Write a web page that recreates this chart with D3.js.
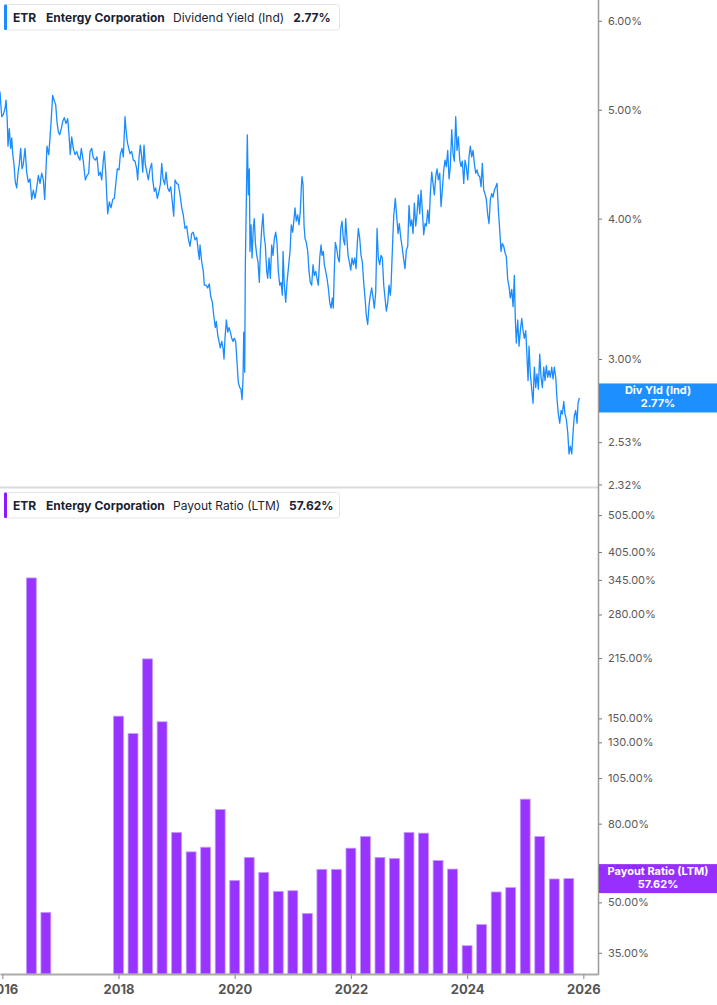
<!DOCTYPE html>
<html>
<head>
<meta charset="utf-8">
<script src="https://cdn.jsdelivr.net/npm/d3@7"></script>
<style>
  html, body { margin: 0; padding: 0; background: #fff; }
  svg { display: block; font-family: Inter, "Noto Sans", Roboto, sans-serif; }
</style>
</head>
<body>
<svg id="chart" width="717" height="1005"></svg>
<script>
// ---------------- DATA ----------------
const ticker = "ETR";
const company = "Entergy Corporation";
const topSeriesName = "Dividend Yield (Ind)";
const topShortName = "Div Yld (Ind)";
const bottomSeriesName = "Payout Ratio (LTM)";

// Dividend yield (%), time as decimal year
const yieldTimes = [
2015.960,2015.972,2015.990,2016.017,2016.046,2016.064,2016.086,2016.098,2016.120,2016.144,2016.162,2016.179,2016.201,2016.224,2016.248,2016.270,2016.292,2016.316,2016.339,2016.361,2016.391,2016.420,2016.447,2016.477,2016.506,2016.534,2016.563,2016.592,2016.620,2016.649,2016.678,2016.706,2016.730,2016.752,2016.769,2016.799,2016.821,2016.843,2016.867,2016.890,2016.919,2016.941,2016.964,2016.988,
2017.015,2017.040,2017.067,2017.096,2017.126,2017.148,2017.170,2017.194,2017.222,2017.251,2017.281,2017.308,2017.337,2017.360,2017.394,2017.429,2017.458,2017.487,2017.510,2017.539,2017.566,2017.601,2017.630,2017.659,2017.687,2017.711,2017.739,2017.756,2017.780,2017.797,2017.814,2017.842,2017.871,2017.900,2017.928,2017.952,2017.979,
2018.009,2018.031,2018.060,2018.083,2018.112,2018.129,2018.152,2018.176,2018.198,2018.227,2018.255,2018.284,2018.313,2018.330,2018.353,2018.375,2018.399,2018.417,2018.439,2018.461,2018.491,2018.513,2018.542,2018.571,2018.589,2018.616,2018.640,2018.668,2018.697,2018.720,2018.744,2018.766,2018.795,2018.818,2018.847,2018.875,2018.899,2018.926,2018.950,2018.973,
2019.002,2019.029,2019.059,2019.088,2019.115,2019.145,2019.174,2019.201,2019.231,2019.260,2019.287,2019.317,2019.346,2019.373,2019.391,2019.403,2019.432,2019.460,2019.477,2019.506,2019.535,2019.563,2019.587,2019.615,2019.639,2019.666,2019.684,2019.708,2019.730,2019.752,2019.776,2019.799,2019.816,2019.833,2019.856,2019.880,2019.902,2019.925,2019.949,2019.971,2019.993,
2020.017,2020.040,2020.062,2020.086,2020.108,2020.126,2020.143,2020.155,2020.172,2020.183,2020.200,2020.217,2020.234,2020.252,2020.263,2020.281,2020.298,2020.320,2020.337,2020.355,2020.379,2020.401,2020.424,2020.441,2020.465,2020.487,2020.504,2020.527,2020.551,2020.568,2020.591,2020.613,2020.637,2020.659,2020.682,2020.706,2020.728,2020.751,2020.775,2020.797,2020.820,2020.832,2020.854,2020.878,2020.900,2020.923,2020.952,2020.974,2020.998,
2021.021,2021.038,2021.060,2021.084,2021.107,2021.129,2021.146,2021.158,2021.176,2021.193,2021.210,2021.232,2021.257,2021.279,2021.301,2021.325,2021.348,2021.370,2021.394,2021.417,2021.439,2021.463,2021.486,2021.503,2021.525,2021.542,2021.566,2021.589,2021.611,2021.635,2021.658,2021.680,2021.697,2021.714,2021.732,2021.756,2021.778,2021.801,2021.825,2021.847,2021.869,2021.893,2021.910,2021.928,2021.950,2021.973,2021.997,
2022.019,2022.042,2022.066,2022.088,2022.111,2022.128,2022.152,2022.174,2022.196,2022.220,2022.243,2022.265,2022.289,2022.312,2022.334,2022.358,2022.381,2022.403,2022.427,2022.450,2022.472,2022.496,2022.518,2022.541,2022.565,2022.587,2022.610,2022.634,2022.656,2022.678,2022.690,2022.720,2022.737,2022.764,2022.788,2022.811,2022.833,2022.857,2022.880,2022.902,2022.931,2022.954,2022.978,
2023.000,2023.023,2023.047,2023.069,2023.092,2023.116,2023.138,2023.160,2023.185,2023.207,2023.229,2023.253,2023.276,2023.298,2023.322,2023.345,2023.367,2023.391,2023.413,2023.436,2023.460,2023.482,2023.505,2023.529,2023.551,2023.573,2023.598,2023.620,2023.642,2023.666,2023.689,2023.711,2023.735,2023.758,2023.780,2023.804,2023.826,2023.849,2023.873,2023.895,2023.918,2023.942,2023.964,2023.986,
2024.011,2024.033,2024.055,2024.079,2024.102,2024.124,2024.148,2024.171,2024.193,2024.217,2024.240,2024.262,2024.286,2024.308,2024.331,2024.355,2024.377,2024.400,2024.424,2024.446,2024.469,2024.493,2024.515,2024.538,2024.561,2024.584,2024.606,2024.630,2024.653,2024.675,2024.699,2024.722,2024.744,2024.768,2024.791,2024.813,2024.830,2024.847,2024.871,2024.894,2024.916,2024.940,2024.963,2024.985,
2025.009,2025.031,2025.049,2025.066,2025.088,2025.112,2025.135,2025.157,2025.181,2025.203,2025.226,2025.250,2025.272,2025.295,2025.319,2025.341,2025.364,2025.387,2025.410,2025.432,2025.456,2025.479,2025.501,2025.525,2025.548,2025.570,2025.594,2025.617,2025.639,2025.663,2025.685,2025.708,2025.732,2025.754,2025.777,2025.801,2025.823,2025.845,2025.869,2025.892,2025.909,2025.932
];
const yieldValues = [
5.19,5.08,4.93,4.95,5.01,5.10,4.88,4.64,4.81,4.62,4.72,4.57,4.47,4.31,4.26,4.39,4.47,4.62,4.43,4.47,4.62,4.40,4.31,4.34,4.16,4.24,4.17,4.26,4.37,4.30,4.39,4.33,4.16,4.43,4.64,4.56,4.72,4.91,5.15,5.10,5.05,4.88,4.78,4.75,
4.81,4.88,4.92,4.86,4.91,4.75,4.56,4.73,4.62,4.56,4.59,4.54,4.51,4.62,4.50,4.33,4.37,4.39,4.59,4.62,4.53,4.51,4.54,4.37,4.40,4.33,4.51,4.59,4.40,4.20,4.04,4.14,4.09,4.16,4.17,4.29,4.43,
4.42,4.56,4.62,4.54,4.93,4.80,4.68,4.62,4.57,4.59,4.51,4.50,4.43,4.33,4.53,4.65,4.54,4.40,4.65,4.47,4.39,4.33,4.43,4.48,4.33,4.23,4.26,4.17,4.23,4.29,4.48,4.34,4.29,4.40,4.26,4.23,4.27,4.14,4.02,4.33,
4.30,4.29,4.20,4.09,4.03,3.92,3.94,3.84,3.78,3.88,3.89,3.83,3.85,3.74,3.68,3.79,3.66,3.59,3.49,3.49,3.47,3.50,3.41,3.37,3.28,3.20,3.24,3.15,3.11,3.07,3.11,3.07,3.00,3.13,3.25,3.17,3.20,3.17,3.13,3.11,3.13,
3.11,2.98,2.86,2.83,2.82,2.76,2.88,3.17,2.92,3.64,4.14,4.75,4.20,4.43,3.74,3.95,3.69,3.92,4.00,3.81,3.71,3.66,3.51,3.74,3.92,4.04,3.87,3.79,3.59,3.54,3.69,3.54,3.79,3.71,3.84,3.89,3.81,3.59,3.49,3.51,3.42,3.74,3.49,3.37,3.51,3.61,3.74,3.95,3.89,
4.00,4.09,3.98,4.03,3.95,4.06,4.26,4.36,4.29,3.95,3.84,3.81,3.74,3.59,3.51,3.49,3.64,3.56,3.59,3.54,3.49,3.69,3.79,3.71,3.74,3.64,3.59,3.54,3.47,3.37,3.33,3.40,3.33,3.59,3.81,3.76,3.69,3.66,3.92,3.98,3.84,3.79,4.00,3.87,3.71,3.66,3.60,
3.69,3.64,3.69,3.61,3.81,3.92,3.84,3.71,3.66,3.51,3.40,3.28,3.22,3.35,3.42,3.47,3.40,3.33,3.44,3.92,3.69,3.64,3.71,3.69,3.49,3.40,3.31,3.37,3.49,3.42,3.48,3.83,4.02,4.17,4.02,3.88,3.96,3.85,3.78,3.70,3.61,3.75,3.78,
4.11,3.94,3.99,3.88,4.13,3.94,4.04,4.20,4.04,4.24,4.07,3.87,3.96,3.94,4.07,3.96,4.21,4.40,4.30,4.20,4.36,4.43,4.33,4.39,4.10,4.24,4.42,4.51,4.45,4.60,4.34,4.45,4.80,4.57,4.50,4.93,4.60,4.73,4.51,4.45,4.50,4.30,4.51,4.45,
4.33,4.54,4.64,4.54,4.60,4.48,4.39,4.42,4.37,4.36,4.27,4.48,4.24,4.21,4.16,4.03,3.96,4.16,4.21,4.18,4.24,4.27,4.30,4.07,3.91,3.74,3.80,3.78,3.73,3.70,3.53,3.48,3.40,3.46,3.34,3.56,3.25,3.10,3.25,3.08,3.18,3.26,3.18,3.13,
3.18,3.01,2.87,3.08,2.91,2.82,2.74,2.95,2.83,2.91,2.82,3.03,2.89,2.83,2.95,2.87,2.96,2.89,2.93,2.89,2.95,2.88,2.95,2.89,2.76,2.68,2.63,2.70,2.68,2.75,2.68,2.65,2.58,2.47,2.51,2.47,2.58,2.67,2.70,2.63,2.74,2.77
];

// Payout ratio (LTM, %), quarterly
const payoutQuarters = ["2016Q2","2016Q3","2017Q4",
  "2018Q1","2018Q2","2018Q3","2018Q4","2019Q1","2019Q2","2019Q3","2019Q4",
  "2020Q1","2020Q2","2020Q3","2020Q4","2021Q1","2021Q2","2021Q3","2021Q4",
  "2022Q1","2022Q2","2022Q3","2022Q4","2023Q1","2023Q2","2023Q3","2023Q4",
  "2024Q1","2024Q2","2024Q3","2024Q4","2025Q1","2025Q2","2025Q3"];
const payoutValues = [347, 47.1, 152,
  137, 214, 147, 75.9, 67.6, 69.5, 87.1, 57.0,
  65.4, 59.8, 53.4, 53.6, 46.8, 60.9, 60.9, 69.1,
  74.1, 65.4, 65.0, 75.9, 75.6, 64.2, 61.0, 38.6,
  43.8, 53.2, 54.6, 92.6, 74.1, 57.5, 57.62];

// Axis ticks
const xTickYears = [2016, 2018, 2020, 2022, 2024, 2026];
const yieldTickValues = [6.00, 5.00, 4.00, 3.00, 2.53, 2.32];
const payoutTickValues = [505, 405, 343, 279, 215, 150, 130, 105, 80, 61, 50, 37];
const payoutTickLabels = ["505.00%","405.00%","345.00%","280.00%","215.00%","150.00%","130.00%","105.00%","80.00%","55.00%","50.00%","35.00%"];

const lastYield = yieldValues[yieldValues.length - 1];
const lastPayout = payoutValues[payoutValues.length - 1];

// ---------------- LAYOUT ----------------
const W = 717, H = 1005;
const plotRight = 598;
const topPanel = { top: 0, bottom: 487 };
const botPanel = { top: 488, bottom: 974 };

const blue = "#1a8cff";
const purple = "#9933ff";
const purpleLabel = "#8c1aff";

const svg = d3.select("#chart");

const x = d3.scaleLinear().domain([2015.9604, 2026.2527]).range([0, plotRight]);
const yTop = d3.scaleLog().domain([2.308, 6.261]).range([topPanel.bottom, topPanel.top]);
const yBot = d3.scaleLog().domain([32.6, 593.7]).range([botPanel.bottom, botPanel.top]);

const fmtPct = d => d3.format(".2f")(d) + "%";

// clip for the top line
svg.append("defs").append("clipPath").attr("id", "clipTop")
  .append("rect").attr("x", 0).attr("y", 0).attr("width", plotRight).attr("height", topPanel.bottom);

// separator between panels
svg.append("line")
  .attr("x1", 0).attr("x2", plotRight)
  .attr("y1", 487.5).attr("y2", 487.5)
  .attr("stroke", "#dcdcdc").attr("stroke-width", 2);

// ---------------- TOP: yield line ----------------
const yieldData = yieldTimes.map((t, i) => ({ t, v: yieldValues[i] }));
svg.append("path")
  .datum(yieldData)
  .attr("clip-path", "url(#clipTop)")
  .attr("fill", "none")
  .attr("stroke", blue)
  .attr("stroke-width", 1.3)
  .attr("stroke-linejoin", "round")
  .attr("d", d3.line().x(d => x(d.t)).y(d => yTop(d.v)));

// ---------------- BOTTOM: payout bars ----------------
const qToYear = q => +q.slice(0, 4) + (+q.slice(5)) / 4;
const barW = (x(0.25) - x(0)) * 0.68;
svg.append("g").selectAll("rect")
  .data(payoutQuarters.map((q, i) => ({ t: qToYear(q), v: payoutValues[i] })))
  .join("rect")
  .attr("x", d => x(d.t) - barW / 2)
  .attr("width", barW)
  .attr("y", d => yBot(d.v))
  .attr("height", d => botPanel.bottom - yBot(d.v))
  .attr("fill", purple)
  .attr("stroke", "#c39cff")
  .attr("stroke-width", 0.8);

// ---------------- AXES ----------------
// right axis line
svg.append("line")
  .attr("x1", plotRight + 0.5).attr("x2", plotRight + 0.5)
  .attr("y1", 0).attr("y2", botPanel.bottom + 1)
  .attr("stroke", "#9a9a9a").attr("stroke-width", 1.5);

function styleYAxis(g) {
  g.select(".domain").remove();
  g.selectAll(".tick line").attr("stroke", "#777").attr("stroke-width", 1);
  g.selectAll(".tick text")
    .attr("fill", "#5a5a5a")
    .attr("font-size", 11)
    .attr("font-family", "Inter, 'Noto Sans', sans-serif");
}

const topAxis = d3.axisRight(yTop)
  .tickValues(yieldTickValues)
  .tickFormat(fmtPct)
  .tickSize(3).tickPadding(6);
svg.append("g").attr("transform", `translate(${plotRight + 1},0)`)
  .call(topAxis).call(styleYAxis);

const botAxis = d3.axisRight(yBot)
  .tickValues(payoutTickValues)
  .tickFormat((d, i) => payoutTickLabels[i])
  .tickSize(3).tickPadding(6);
svg.append("g").attr("transform", `translate(${plotRight + 1},0)`)
  .call(botAxis).call(styleYAxis);

// bottom x axis
const xAxis = d3.axisBottom(x)
  .tickValues(xTickYears)
  .tickFormat(d3.format("d"))
  .tickSize(5).tickSizeOuter(0).tickPadding(6);
const gx = svg.append("g").attr("transform", `translate(0,${botPanel.bottom})`).call(xAxis);
gx.select(".domain").attr("stroke", "#aaaaaa").attr("stroke-width", 2);
gx.selectAll(".tick line").attr("stroke", "#999").attr("stroke-width", 1.2);
gx.selectAll(".tick text")
  .attr("fill", "#555")
  .attr("font-size", 13)
  .attr("font-weight", 700)
  .attr("font-family", "Inter, 'Noto Sans', sans-serif");

// ---------------- VALUE LABELS on axis ----------------
function valueTag(yc, color, line1, line2, opacity) {
  const h = 29;
  const g = svg.append("g");
  g.append("rect")
    .attr("x", plotRight + 1).attr("y", yc - h / 2)
    .attr("width", W - plotRight - 1).attr("height", h)
    .attr("fill", color).attr("fill-opacity", opacity);
  const cx = plotRight + 1 + (W - plotRight - 1) / 2;
  g.append("text").attr("x", cx).attr("y", yc - 6.5)
    .attr("text-anchor", "middle").attr("dominant-baseline", "middle")
    .attr("fill", "#fff").attr("font-size", 11).attr("font-weight", 700)
    .text(line1);
  g.append("text").attr("x", cx).attr("y", yc + 6.5)
    .attr("text-anchor", "middle").attr("dominant-baseline", "middle")
    .attr("fill", "#fff").attr("font-size", 11).attr("font-weight", 700)
    .text(line2);
}
valueTag(yTop(lastYield), "#1e8fff", topShortName, fmtPct(lastYield), 1);
valueTag(yBot(lastPayout), purpleLabel, bottomSeriesName, fmtPct(lastPayout), 0.9);

// ---------------- LEGENDS ----------------
function legend(y0, color, seriesName, valueText) {
  const g = svg.append("g").attr("transform", `translate(0,${y0})`);
  g.append("rect").attr("x", 4.5).attr("y", 0.5).attr("width", 335).attr("height", 25.5)
    .attr("rx", 3).attr("fill", "#fff").attr("stroke", "#e4e4e8");
  g.append("rect").attr("x", 4).attr("y", 0.5).attr("width", 3).attr("height", 25.5)
    .attr("rx", 1).attr("fill", color);
  const t = g.append("text").attr("y", 17.5).attr("font-size", 12).attr("fill", "#1b1f33");
  t.append("tspan").attr("x", 13).attr("font-weight", 700).text(ticker);
  t.append("tspan").attr("x", 46).attr("font-weight", 700).text(company);
  t.append("tspan").attr("x", 173).attr("font-weight", 400).text(seriesName);
  const nameW = t.selectAll("tspan").nodes()[2].getComputedTextLength();
  t.append("tspan").attr("x", 173 + nameW + 9).attr("font-weight", 700).text(valueText);
}
legend(4, blue, topSeriesName, fmtPct(lastYield));
legend(492, "#8c1aff", bottomSeriesName, fmtPct(lastPayout));
</script>
</body>
</html>
